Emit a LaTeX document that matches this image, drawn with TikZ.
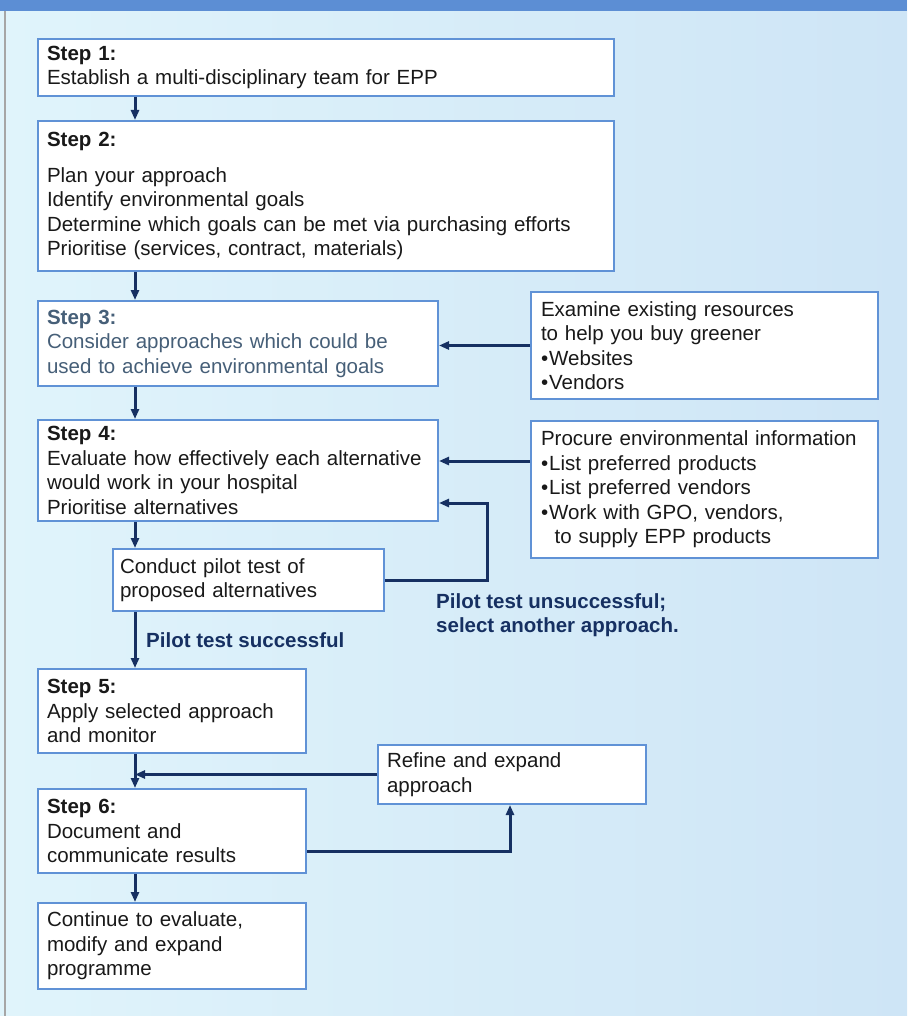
\documentclass[tikz,border=0pt]{standalone}
\usepackage{fontspec}
\setmainfont{Liberation Sans}
\usetikzlibrary{arrows.meta,calc}
\definecolor{bgL}{RGB}{224,244,251}
\definecolor{bgR}{RGB}{206,229,246}
\definecolor{band}{RGB}{92,142,212}
\definecolor{boxblue}{RGB}{96,146,214}
\definecolor{navy}{RGB}{22,48,98}
\definecolor{greytext}{RGB}{70,95,120}
\definecolor{ink}{RGB}{25,25,25}
\newcommand{\bul}{\textbullet\kern1pt}
\tikzset{
  box/.style={draw=boxblue, line width=2pt, fill=white, anchor=north west,
    align=left, inner xsep=9pt, inner ysep=0pt, text=ink,
    font=\fontsize{20.5}{24.5}\selectfont},
  arr/.style={draw=navy, line width=3pt, -{Triangle[length=10pt,width=8pt]}},
  lbl/.style={text=navy, font=\fontsize{20.5}{24.5}\selectfont\bfseries, align=left, anchor=west, inner sep=0pt}
}
\begin{document}
\begin{tikzpicture}[x=1pt,y=-1pt]
\useasboundingbox (0,0) rectangle (907,1016);
\shade[left color=bgL, right color=bgR] (0,0) rectangle (907,1016);
\fill[band] (0,0) rectangle (907,11);
\draw[gray!70, line width=1.5pt] (5,11) -- (5,1016);

\node[box, text width=558pt, minimum height=57pt] (s1) at (37,38)
  {\textbf{Step 1:}\\Establish a multi-disciplinary team for EPP};
\node[box, text width=558pt, minimum height=150pt] (s2) at (37,120)
  {\textbf{Step 2:}\\[11pt]Plan your approach\\Identify environmental goals\\Determine which goals can be met via purchasing efforts\\Prioritise (services, contract, materials)};
\node[box, text width=382pt, minimum height=85pt, text=greytext] (s3) at (37,300)
  {\textbf{Step 3:}\\Consider approaches which could be\\used to achieve environmental goals};
\node[box, text width=327pt, minimum height=107pt, inner xsep=10pt] (res) at (530,291)
  {Examine existing resources\\to help you buy greener\\\bul Websites\\\bul Vendors};
\node[box, text width=382pt, minimum height=101pt] (s4) at (37,419)
  {\textbf{Step 4:}\\Evaluate how effectively each alternative\\would work in your hospital\\Prioritise alternatives};
\node[box, text width=327pt, minimum height=137pt, inner xsep=10pt] (proc) at (530,420)
  {Procure environmental information\\\bul List preferred products\\\bul List preferred vendors\\\bul Work with GPO, vendors,\\\ \ to supply EPP products};
\node[box, text width=257pt, minimum height=62pt, inner xsep=7pt] (pilot) at (112,548)
  {Conduct pilot test of\\proposed alternatives};
\node[box, text width=250pt, minimum height=84pt] (s5) at (37,668)
  {\textbf{Step 5:}\\Apply selected approach\\and monitor};
\node[box, text width=250pt, minimum height=59pt] (refine) at (377,744)
  {Refine and expand\\approach};
\node[box, text width=250pt, minimum height=84pt] (s6) at (37,788)
  {\textbf{Step 6:}\\Document and\\communicate results};
\node[box, text width=250pt, minimum height=86pt] (cont) at (37,902)
  {Continue to evaluate,\\modify and expand\\programme};

\node[lbl] (ok) at (146,640) {Pilot test successful};
\node[lbl] (nok) at (436,615) {Pilot test unsuccessful;\\select another approach.};

\coordinate (spine) at (135,0);
\coordinate (a4) at (0,461);
\coordinate (loop) at (487,503);
\coordinate (r6) at (510,851);

\draw[arr] (s1.south -| spine) -- (s2.north -| spine);
\draw[arr] (s2.south -| spine) -- (s3.north -| spine);
\draw[arr] (s3.south -| spine) -- (s4.north -| spine);
\draw[arr] (s4.south -| spine) -- (pilot.north -| spine);
\draw[arr] (pilot.south -| spine) -- (s5.north -| spine);
\draw[arr] (s5.south -| spine) -- (s6.north -| spine);
\draw[arr] (s6.south -| spine) -- (cont.north -| spine);
\draw[arr] (res.west) -- (res.west -| s3.east);
\draw[arr] (proc.west |- a4) -- (s4.east |- a4);
\draw[arr] (pilot.east) -| (loop) -- (loop -| s4.east);
\draw[arr] (refine.west) -- (refine.west -| spine);
\draw[arr] (s6.east |- r6) -- (r6) -- (refine.south -| r6);
\end{tikzpicture}
\end{document}
